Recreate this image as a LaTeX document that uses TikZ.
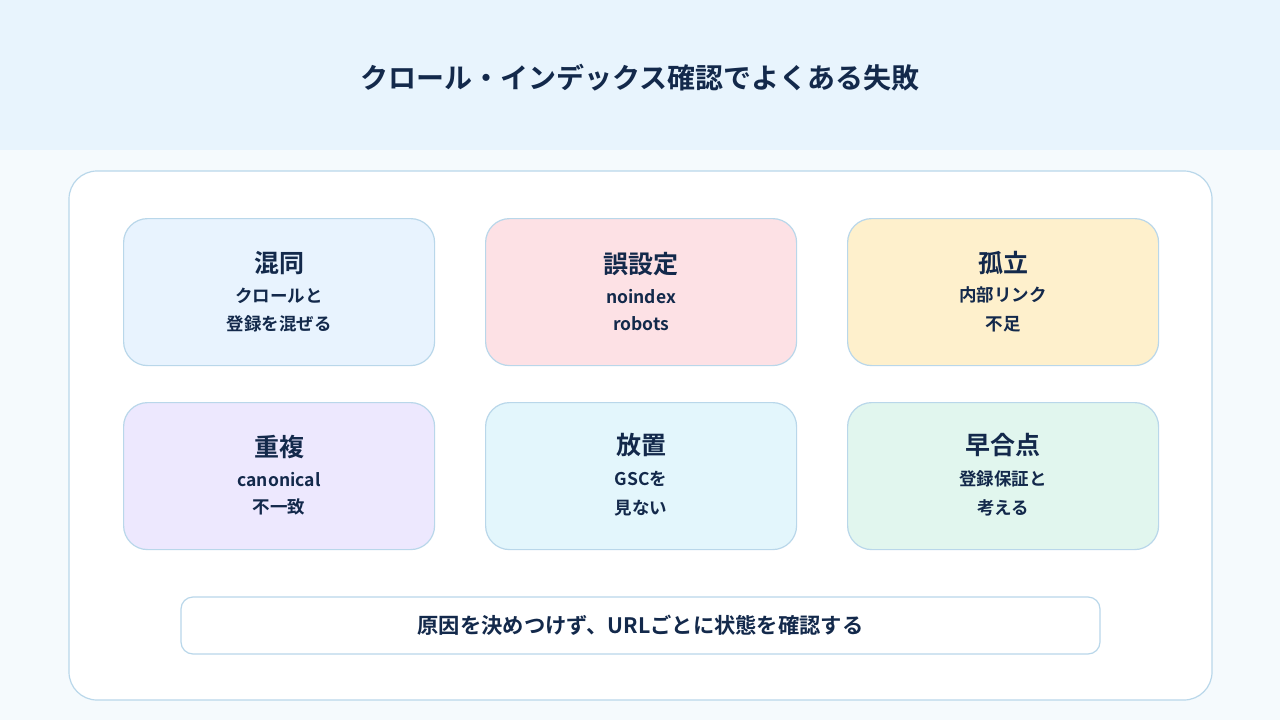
\documentclass[tikz,border=0pt]{standalone}
\usepackage{fontspec}
\setmainfont{Noto Sans CJK JP}[BoldFont={Noto Sans CJK JP Bold}]
\usetikzlibrary{positioning,calc}
\definecolor{ink}{HTML}{13294B}
\definecolor{edge}{HTML}{B9D7EA}
\definecolor{band}{HTML}{E8F4FD}
\definecolor{page}{HTML}{F5FAFD}
\definecolor{cblue}{HTML}{E8F3FE}
\definecolor{cpink}{HTML}{FDE1E5}
\definecolor{cyell}{HTML}{FEF0CC}
\definecolor{clav}{HTML}{EDE8FE}
\definecolor{ccyan}{HTML}{E3F6FC}
\definecolor{cmint}{HTML}{E1F6EE}
\begin{document}
\begin{tikzpicture}[x=1pt,y=-1pt,
  card/.style={draw=edge,line width=1.2pt,rounded corners=24pt,minimum width=311pt,minimum height=147pt,anchor=north west},
  head/.style={text=ink,font=\bfseries\fontsize{25}{27}\selectfont},
  sub/.style={text=ink,font=\bfseries\fontsize{17.5}{19}\selectfont}]

% Background
\fill[page] (0,0) rectangle (1280,720);
\fill[band] (0,0) rectangle (1280,150);
\useasboundingbox (0,0) rectangle (1280,720);
\node (title) at (640,78) [text=ink,font=\bfseries\fontsize{28}{30}\selectfont] {クロール・インデックス確認でよくある失敗};
\draw[edge,fill=white,line width=1.2pt,rounded corners=28pt] (69,171) rectangle (1212,700);

% Cards
\node (mix) at (123,218) [card,fill=cblue] {};
\node (miss) at (485,218) [card,fill=cpink] {};
\node (lone) at (847,218) [card,fill=cyell] {};
\node (dup) at (123,402) [card,fill=clav] {};
\node (idle) at (485,402) [card,fill=ccyan] {};
\node (rush) at (847,402) [card,fill=cmint] {};

% Labels
\node at ($(mix.north)+(0,45)$) [head] {混同};
\node at ($(mix.north)+(0,78)$) [sub] {クロールと};
\node at ($(mix.north)+(0,106)$) [sub] {登録を混ぜる};
\node at ($(miss.north)+(0,46)$) [head] {誤設定};
\node at ($(miss.north)+(0,79)$) [sub] {noindex};
\node at ($(miss.north)+(0,106)$) [sub] {robots};
\node at ($(lone.north)+(0,45)$) [head] {孤立};
\node at ($(lone.north)+(0,77)$) [sub] {内部リンク};
\node at ($(lone.north)+(0,106)$) [sub] {不足};
\node at ($(dup.north)+(0,45)$) [head] {重複};
\node at ($(dup.north)+(0,78)$) [sub] {canonical};
\node at ($(dup.north)+(0,105)$) [sub] {不一致};
\node at ($(idle.north)+(0,43)$) [head] {放置};
\node at ($(idle.north)+(0,77)$) [sub] {GSCを};
\node at ($(idle.north)+(0,106)$) [sub] {見ない};
\node at ($(rush.north)+(0,43)$) [head] {早合点};
\node at ($(rush.north)+(0,77)$) [sub] {登録保証と};
\node at ($(rush.north)+(0,106)$) [sub] {考える};

% Note
\node (note) at (640.5,625.5) [draw=edge,line width=1.2pt,fill=white,rounded corners=12pt,minimum width=919pt,minimum height=57pt,text=ink,font=\bfseries\fontsize{21.3}{23}\selectfont] {原因を決めつけず、URLごとに状態を確認する};
\end{tikzpicture}
\end{document}
